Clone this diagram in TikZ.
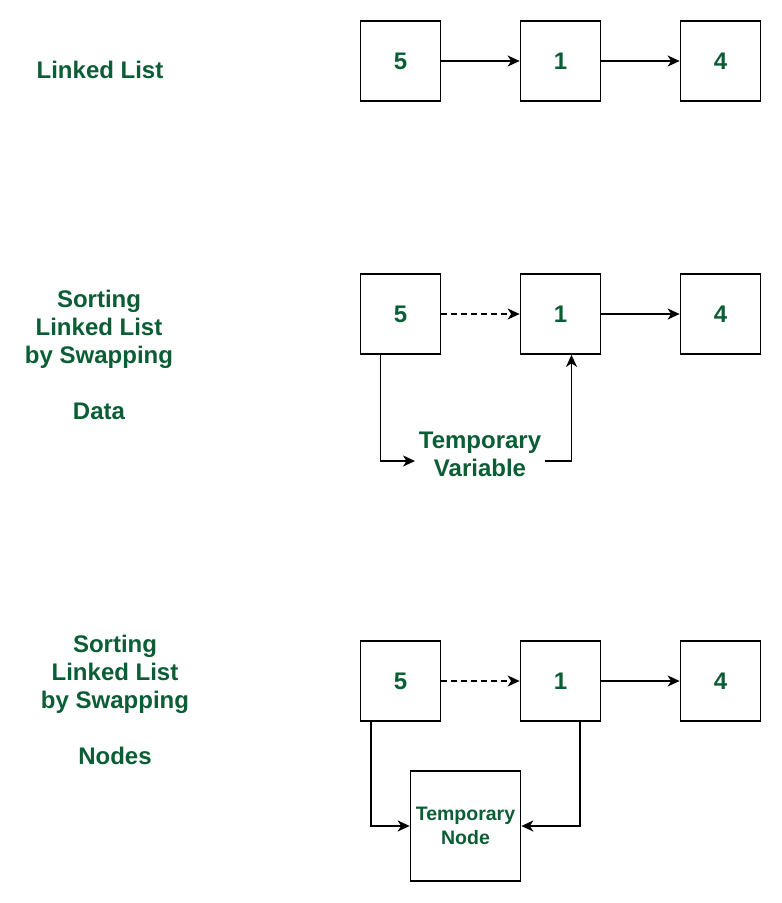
\documentclass[tikz,border=0pt]{standalone}
\usepackage{fontspec}
\setmainfont{Liberation Sans}
\usetikzlibrary{arrows.meta}
\definecolor{gfgreen}{RGB}{10,93,52}
\tikzset{arr/.style={-{Stealth[length=12pt,width=11pt,inset=3.5pt]}}}
\begin{document}
\begin{tikzpicture}[x=1pt,y=-1pt,line width=1.7pt]

        \useasboundingbox (0,0) rectangle (782,903);

        \begin{scope}[every node/.style={text=gfgreen,font=\bfseries\fontsize{24}{28}\selectfont,align=center}]
          \node (l1) at (100,70)  {Linked List};
          \node (l2) at (99,355)  {Sorting\\Linked List\\by Swapping\\[28pt]Data};
          \node (l3) at (115,700) {Sorting\\Linked List\\by Swapping\\[28pt]Nodes};
          \node[inner sep=3pt] (tv) at (480,454) {Temporary\\Variable};
        \end{scope}

        \begin{scope}[every node/.style={draw,minimum size=80pt,inner sep=0pt,text=gfgreen,font=\bfseries\fontsize{24}{28}\selectfont}]
          \node (a5) at (400.5,61)  {5};
          \node (a1) at (560.5,61)  {1};
          \node (a4) at (720.5,61)  {4};
          \node (b5) at (400.5,314) {5};
          \node (b1) at (560.5,314) {1};
          \node (b4) at (720.5,314) {4};
          \node (c5) at (400.5,681) {5};
          \node (c1) at (560.5,681) {1};
          \node (c4) at (720.5,681) {4};
          \node[minimum size=110pt,align=center,font=\bfseries\fontsize{19.5}{24}\selectfont] (tn) at (465.5,826) {Temporary\\Node};
        \end{scope}

        \begin{scope}[every edge/.style={draw,arr}]
          \path (a5) edge (a1);
          \path (a1) edge (a4);
          \path (b5) edge[dash pattern=on 6pt off 4pt] (b1);
          \path (b1) edge (b4);
          \path (c5) edge[dash pattern=on 6pt off 4pt] (c1);
          \path (c1) edge (c4);
        \end{scope}

        \draw[arr] ([xshift=-20pt]b5.south) |- ([yshift=-7pt]tv.west);
        \draw[arr] ([yshift=-7pt]tv.east) -| ([xshift=11pt]b1.south);
        \draw[arr] ([xshift=-29.5pt]c5.south) |- (tn.west);
        \draw[arr] ([xshift=19.5pt]c1.south) |- (tn.east);

      \end{tikzpicture}
\end{document}
